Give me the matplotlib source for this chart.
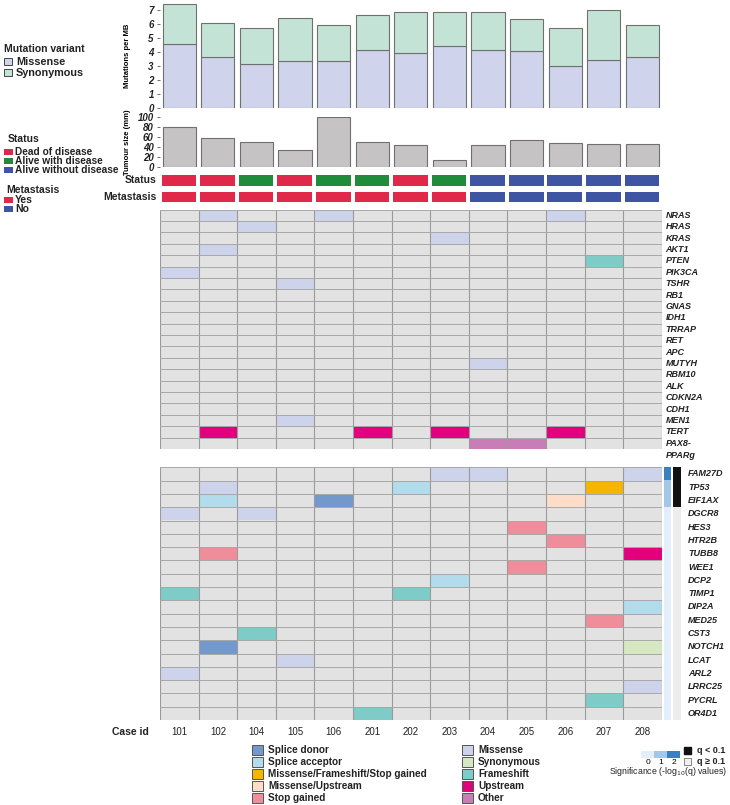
import matplotlib
matplotlib.use("Agg")
import matplotlib.pyplot as plt
from matplotlib.patches import Rectangle
from matplotlib.colors import ListedColormap, BoundaryNorm
import numpy as np

plt.rcParams['font.family'] = ['Liberation Sans', 'DejaVu Sans']

# ---------------- data ----------------
cases = ['101', '102', '104', '105', '106', '201', '202', '203', '204', '205', '206', '207', '208']
missense_mb = [4.57, 3.62, 3.12, 3.33, 3.38, 4.12, 3.90, 4.40, 4.12, 4.05, 2.98, 3.40, 3.62]
synonymous_mb = [2.86, 2.43, 2.62, 3.12, 2.52, 2.50, 2.94, 2.44, 2.72, 2.28, 2.71, 3.58, 2.31]
tumour_size = [80, 58, 50, 35, 100, 50, 44, 14, 44, 54, 48, 46, 46]
status = ['D', 'D', 'AWD', 'D', 'AWD', 'AWD', 'D', 'AWD', 'AWoD', 'AWoD', 'AWoD', 'AWoD', 'AWoD']
metastasis = ['Yes'] * 8 + ['No'] * 5

upper_genes = ['NRAS', 'HRAS', 'KRAS', 'AKT1', 'PTEN', 'PIK3CA', 'TSHR', 'RB1', 'GNAS', 'IDH1',
               'TRRAP', 'RET', 'APC', 'MUTYH', 'RBM10', 'ALK', 'CDKN2A', 'CDH1', 'MEN1', 'TERT',
               'PAX8-\nPPARg']
# (gene, case, mutation type)
upper_mutations = [
    ('NRAS', '102', 'Missense'), ('NRAS', '106', 'Missense'), ('NRAS', '206', 'Missense'),
    ('HRAS', '104', 'Missense'), ('KRAS', '203', 'Missense'), ('AKT1', '102', 'Missense'),
    ('PTEN', '207', 'Frameshift'), ('PIK3CA', '101', 'Missense'), ('TSHR', '105', 'Missense'),
    ('MUTYH', '204', 'Missense'), ('MEN1', '105', 'Missense'),
    ('TERT', '102', 'Upstream'), ('TERT', '201', 'Upstream'), ('TERT', '203', 'Upstream'),
    ('TERT', '206', 'Upstream'),
    ('PAX8-\nPPARg', '204', 'Other'), ('PAX8-\nPPARg', '205', 'Other'),
]

lower_genes = ['FAM27D', 'TP53', 'EIF1AX', 'DGCR8', 'HES3', 'HTR2B', 'TUBB8', 'WEE1', 'DCP2',
               'TIMP1', 'DIP2A', 'MED25', 'CST3', 'NOTCH1', 'LCAT', 'ARL2', 'LRRC25', 'PYCRL', 'OR4D1']
lower_mutations = [
    ('FAM27D', '203', 'Missense'), ('FAM27D', '204', 'Missense'), ('FAM27D', '208', 'Missense'),
    ('TP53', '102', 'Missense'), ('TP53', '202', 'Splice acceptor'),
    ('TP53', '207', 'Missense/Frameshift/Stop gained'),
    ('EIF1AX', '102', 'Splice acceptor'), ('EIF1AX', '106', 'Splice donor'),
    ('EIF1AX', '206', 'Missense/Upstream'),
    ('DGCR8', '101', 'Missense'), ('DGCR8', '104', 'Missense'),
    ('HES3', '205', 'Stop gained'), ('HTR2B', '206', 'Stop gained'),
    ('TUBB8', '102', 'Stop gained'), ('TUBB8', '208', 'Upstream'),
    ('WEE1', '205', 'Stop gained'), ('DCP2', '203', 'Splice acceptor'),
    ('TIMP1', '101', 'Frameshift'), ('TIMP1', '202', 'Frameshift'),
    ('DIP2A', '208', 'Splice acceptor'), ('MED25', '207', 'Stop gained'),
    ('CST3', '104', 'Frameshift'), ('NOTCH1', '102', 'Splice donor'),
    ('NOTCH1', '208', 'Synonymous'), ('LCAT', '105', 'Missense'), ('ARL2', '101', 'Missense'),
    ('LRRC25', '208', 'Missense'), ('PYCRL', '207', 'Frameshift'), ('OR4D1', '201', 'Frameshift'),
]
significance = [2.4, 1.3, 1.3, 0.3, 0.3, 0.3, 0.3, 0.3, 0.3, 0.3, 0.3, 0.3, 0.3, 0.3, 0.3, 0.3, 0.3, 0.3, 0.3]
q_below = [True, True, True] + [False] * 16

# ---------------- styles ----------------
mut_colors = {
    'Splice donor': '#7399cc',
    'Splice acceptor': '#b2dbeb',
    'Missense/Frameshift/Stop gained': '#f6b500',
    'Missense/Upstream': '#fddcc8',
    'Stop gained': '#f08d9b',
    'Missense': '#cdd3eb',
    'Synonymous': '#d5e8c2',
    'Frameshift': '#7fcbc7',
    'Upstream': '#e4007c',
    'Other': '#c97db6',
}
status_colors = {'D': '#e0294a', 'AWD': '#1f8c3b', 'AWoD': '#3f55a4'}
meta_colors = {'Yes': '#e0294a', 'No': '#3f55a4'}
MISS_C = '#cfd4ec'
SYN_C = '#c3e3d6'
TUM_C = '#c5c3c3'
BG = '#e2e2e2'

W, H = 730, 805
fig = plt.figure(figsize=(W / 100, H / 100), dpi=100)


def ax_px(l, t, r, b):
    return fig.add_axes([l / W, 1 - b / H, (r - l) / W, (b - t) / H])


XL, XR = 160, 661.7
n = len(cases)
x = np.arange(n) + 0.5
tick_font = dict(fontsize=7, fontstyle='italic', fontweight='bold', color='#222')

# ---- mutations per MB ----
ax1 = ax_px(XL, 3, XR, 108)
ax1.bar(x, missense_mb, width=0.86, color=MISS_C, edgecolor='#707070', linewidth=0.8)
ax1.bar(x, synonymous_mb, bottom=missense_mb, width=0.86, color=SYN_C, edgecolor='#707070', linewidth=0.8)
ax1.set_xlim(0, n)
ax1.set_ylim(0, 7.5)
ax1.set_yticks(range(8))
ax1.set_yticklabels([str(i) for i in range(8)], **tick_font)
ax1.tick_params(axis='y', length=2.5, width=0.6, color='#555', pad=2)
ax1.set_xticks([])
for s in ['top', 'right', 'bottom', 'left']:
    ax1.spines[s].set_visible(False)
ax1.set_ylabel('Mutations per MB', fontsize=5.5, fontweight='bold')
ax1.yaxis.set_label_coords(-29 / (XR - XL), 0.5)

# ---- tumour size ----
ax2 = ax_px(XL, 117.3, XR, 167.3)
ax2.bar(x, tumour_size, width=0.86, color=TUM_C, edgecolor='#707070', linewidth=0.8)
ax2.set_xlim(0, n)
ax2.set_ylim(0, 100)
ax2.set_yticks(range(0, 101, 20))
ax2.set_yticklabels([str(i) for i in range(0, 101, 20)], **tick_font)
ax2.tick_params(axis='y', length=2.5, width=0.6, color='#555', pad=2)
ax2.set_xticks([])
for s in ['top', 'right', 'bottom', 'left']:
    ax2.spines[s].set_visible(False)
ax2.set_ylabel('Tumour size (mm)', fontsize=5.5, fontweight='bold')
ax2.yaxis.set_label_coords(-29 / (XR - XL), 0.5)

# ---- status / metastasis tracks ----
for (t, b, vals, cmap, lab) in [(173.5, 187, status, status_colors, 'Status'),
                                (190.5, 203.5, metastasis, meta_colors, 'Metastasis')]:
    ax = ax_px(XL, t, XR, b)
    for i, v in enumerate(vals):
        ax.add_patch(Rectangle((i + 0.04, 0.08), 0.9, 0.84, facecolor=cmap[v], edgecolor='none'))
    ax.set_xlim(0, n)
    ax.set_ylim(0, 1)
    ax.axis('off')
    ax.text(-0.08, 0.5, lab, transform=ax.transData, ha='right', va='center',
            fontsize=7.5, fontweight='bold', color='#222')


def heatmap(ax, genes, muts):
    ng = len(genes)
    ax.add_patch(Rectangle((0, 0), n, ng, facecolor=BG, edgecolor='none'))
    for g, c, m in muts:
        r = genes.index(g)
        ci = cases.index(c)
        ax.add_patch(Rectangle((ci, r), 1, 1, facecolor=mut_colors[m], edgecolor='none'))
    for i in range(n + 1):
        ax.plot([i, i], [0, ng], color='#9a9a9a', lw=0.8)
    for j in range(ng + 1):
        ax.plot([0, n], [j, j], color='#a8a8a8', lw=0.7)
    ax.set_xlim(0, n)
    ax.set_ylim(ng, 0)
    ax.axis('off')


gene_font = dict(fontsize=6.5, fontstyle='italic', fontweight='bold', color='#222')

# ---- upper heatmap ----
ax3 = ax_px(XL, 209.5, XR, 449)
heatmap(ax3, upper_genes, upper_mutations)
for j, g in enumerate(upper_genes):
    if '\n' in g:
        ax3.text(n + 0.1, j + 0.15, g, ha='left', va='top', linespacing=1.35, **gene_font)
    else:
        ax3.text(n + 0.1, j + 0.5, g, ha='left', va='center', **gene_font)

# ---- lower heatmap ----
ax4 = ax_px(XL, 467.3, XR, 720)
heatmap(ax4, lower_genes, lower_mutations)
for j, g in enumerate(lower_genes):
    fig.text(688 / W, 1 - (467.3 + (j + 0.5) * (720 - 467.3) / len(lower_genes)) / H, g,
             ha='left', va='center', **gene_font)
for i, c in enumerate(cases):
    ax4.text(i + 0.5, len(lower_genes) + 0.9, c, ha='center', va='center', fontsize=7, color='#222')
ax4.text(-0.3, len(lower_genes) + 0.9, 'Case id', ha='right', va='center', fontsize=7.5,
         fontweight='bold', color='#222')

# ---- significance bars ----
sig_cmap = ListedColormap(['#e3eef9', '#a3c7e6', '#3a7fc0'])
sig_norm = BoundaryNorm([0, 1, 2, 3], sig_cmap.N)
ax5 = ax_px(664, 467.3, 671, 720)
ax5.imshow(np.array(significance)[:, None], cmap=sig_cmap, norm=sig_norm, aspect='auto',
           interpolation='nearest')
ax5.axis('off')
ax6 = ax_px(673.3, 467.3, 680.7, 720)
ax6.imshow(np.array([[0.0] if q else [1.0] for q in q_below]), cmap=ListedColormap(['#111111', '#ececec']),
           vmin=0, vmax=1, aspect='auto', interpolation='nearest')
ax6.axis('off')

# ---- overlay for legends ----
ov = fig.add_axes([0, 0, 1, 1])
ov.set_xlim(0, W)
ov.set_ylim(H, 0)
ov.axis('off')
ov.set_zorder(-1)

ov.text(4, 49, 'Mutation variant', fontsize=7.5, fontweight='semibold', va='center', color='#222')
for k, (lab, col) in enumerate([('Missense', MISS_C), ('Synonymous', SYN_C)]):
    yy = 62 + k * 11
    ov.add_patch(Rectangle((4, yy - 3.5), 8, 7, facecolor=col, edgecolor='#444', lw=0.7))
    ov.text(16, yy, lab, fontsize=7.8, fontweight='semibold', va='center', color='#222')

ov.text(8, 139, 'Status', fontsize=7.5, fontweight='semibold', va='center', color='#222')
for k, (lab, key) in enumerate([('Dead of disease', 'D'), ('Alive with disease', 'AWD'),
                                ('Alive without disease', 'AWoD')]):
    yy = 152 + k * 9
    ov.add_patch(Rectangle((4, yy - 3), 9, 6, facecolor=status_colors[key], edgecolor='none'))
    ov.text(15, yy, lab, fontsize=7.3, fontweight='bold', va='center', color='#222')

ov.text(6, 190, 'Metastasis', fontsize=7.5, fontweight='semibold', va='center', color='#222')
for k, lab in enumerate(['Yes', 'No']):
    yy = 200 + k * 8.5
    ov.add_patch(Rectangle((4, yy - 3), 9, 6, facecolor=meta_colors[lab], edgecolor='none'))
    ov.text(15, yy, lab, fontsize=7.5, fontweight='bold', va='center', color='#222')

legend_cols = [['Splice donor', 'Splice acceptor', 'Missense/Frameshift/Stop gained',
                'Missense/Upstream', 'Stop gained'],
               ['Missense', 'Synonymous', 'Frameshift', 'Upstream', 'Other']]
for ci, (x0, items) in enumerate(zip([257, 467], legend_cols)):
    for k, lab in enumerate(items):
        yy = 749.5 + k * 12.2
        ov.add_patch(Rectangle((x0 - 5, yy - 5), 11, 10, facecolor=mut_colors[lab],
                               edgecolor='#555', lw=0.7))
        ov.text(x0 + 11, yy, lab, fontsize=7.2, fontweight='bold', va='center', color='#222')

# colourbar legend
cax = ax_px(641, 751, 680, 758)
cax.imshow(np.array([[0.5, 1.5, 2.5]]), cmap=sig_cmap, norm=sig_norm, aspect='auto',
           extent=[0, 3, 0, 1])
cax.set_xticks([0.5, 1.5, 2.5])
cax.set_xticklabels(['0', '1', '2'], fontsize=6)
cax.tick_params(axis='x', length=0, pad=1)
cax.set_yticks([])
for s in cax.spines.values():
    s.set_visible(False)
ov.add_patch(Rectangle((684, 747), 7, 7, facecolor='#111111', edgecolor='#111'))
ov.text(697, 750.5, 'q < 0.1', fontsize=6.5, fontweight='bold', va='center', color='#222')
ov.add_patch(Rectangle((684, 758), 7, 7, facecolor='#f0f0f0', edgecolor='#777', lw=0.6))
ov.text(697, 761.5, 'q \u2265 0.1', fontsize=6.5, fontweight='bold', va='center', color='#222')
ov.text(609, 771.5, 'Significance (-log$_{10}$(q) values)', fontsize=6.3, va='center', color='#222')

fig.savefig('out.png', dpi=100, facecolor='white')
